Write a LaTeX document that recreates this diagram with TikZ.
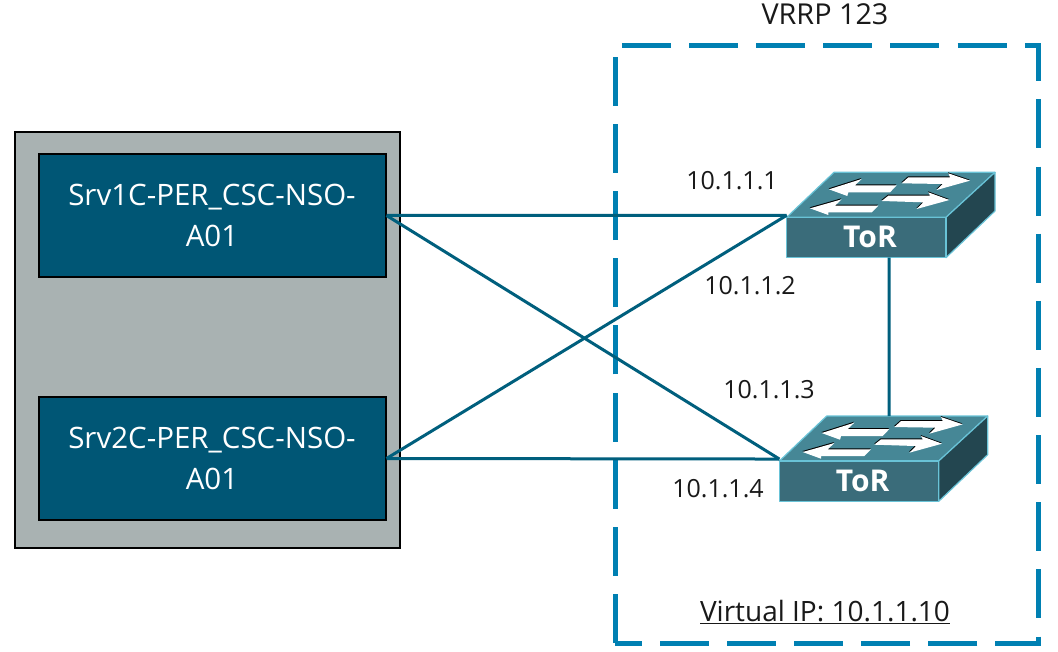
\documentclass[tikz,border=0pt]{standalone}
\usepackage{fontspec}
\setmainfont{Open Sans}
\definecolor{frameblue}{RGB}{0,128,178}
\definecolor{linkblue}{RGB}{0,95,125}
\definecolor{srvblue}{RGB}{0,86,117}
\definecolor{chassis}{RGB}{169,178,178}
\definecolor{swtop}{RGB}{70,135,150}
\definecolor{swfront}{RGB}{58,108,122}
\definecolor{swside}{RGB}{35,70,80}
\definecolor{swedge}{RGB}{105,195,215}
\newcommand{\swarrowshape}[1]{%
  \fill[black,shift={(-1,-3)}] #1 -- cycle;
  \fill[white] #1 -- cycle;}
\tikzset{
  x=1pt,y=-1pt,
  chassisbox/.style={draw=black,line width=2pt,fill=chassis},
  srvbox/.style={draw=black,line width=2pt,fill=srvblue,text=white,minimum width=347pt,minimum height=123pt,inner sep=0pt,align=center,font=\fontsize{29.5}{40}\selectfont},
  vrrpframe/.style={draw=frameblue,line width=5pt,dash pattern=on 49pt off 18.15pt},
  link/.style={draw=linkblue,line width=3pt},
  iplabel/.style={inner sep=0pt,text=black!90,font=\fontsize{25}{30}\selectfont},
  pics/torswitch/.style={code={
    \begin{scope}[scale=0.33333]
      \filldraw[fill=swtop,draw=swedge,line width=1.2pt,line join=round] (80,172) -- (222,37) -- (705,37) -- (558,172) -- cycle;
      \filldraw[fill=swside,draw=swedge,line width=1.2pt,line join=round] (558,172) -- (705,37) -- (705,153) -- (558,293) -- cycle;
      \filldraw[fill=swfront,draw=swedge,line width=1.2pt,line join=round] (80,172) rectangle (558,293);
      \swarrowshape{(207,88) -- (305,57) -- (285,76) -- (410,76) -- (390,97) -- (265,97) -- (262,108)}
      \swarrowshape{(425,70) -- (445,52) -- (570,52) -- (565,40) -- (630,62) -- (530,90) -- (548,72)}
      \swarrowshape{(150,145) -- (245,118) -- (225,137) -- (355,137) -- (335,157) -- (205,157) -- (205,165)}
      \swarrowshape{(365,123) -- (385,107) -- (510,107) -- (505,97) -- (568,120) -- (470,147) -- (490,127)}
      \node[inner sep=0pt,text=white,font=\fontsize{30}{32}\selectfont\bfseries] (-label) at (330,232) {ToR};
      \coordinate (-port) at (80,166);
      \coordinate (-bottom) at (387,293);
      \coordinate (-top) at (409,37);
    \end{scope}
  }}
}
\begin{document}
\begin{tikzpicture}
  \useasboundingbox (0,0) rectangle (1058,652);
  \fill[white] (0,0) rectangle (1058,652);
  \node[chassisbox,minimum width=385pt,minimum height=416pt,inner sep=0pt] (chassisnode) at (207.5,340) {};
  \node[srvbox] (srv1) at (212,215.5) {Srv1C-PER\_CSC-NSO-\\[1pt]A01};
  \node[srvbox] (srv2) at (212,458.5) {Srv2C-PER\_CSC-NSO-\\[1pt]A01};
  \draw[vrrpframe] (615,643) -- (615,45.5) -- (1038,45.5) -- (1038,643) -- cycle;
  \pic (tor1) at (760,160) {torswitch};
  \pic (tor2) at (752.7,403.7) {torswitch};
  \draw[link] (srv1.east) -- (tor1-port);
  \draw[link] (srv1.east) -- (tor2-port);
  \draw[link] (srv2.east) -- (tor1-port);
  \draw[link] (srv2.east) -- (tor2-port);
  \draw[link] (tor1-bottom) -- (tor2-top);
  \node[iplabel] (ip1) at (732,181) {10.1.1.1};
  \node[iplabel] (ip2) at (750,286) {10.1.1.2};
  \node[iplabel] (ip3) at (769,390) {10.1.1.3};
  \node[iplabel] (ip4) at (718,489) {10.1.1.4};
  \node[inner sep=0pt,text=black!90,font=\fontsize{28.8}{32}\selectfont] (vrrp) at (825,14) {VRRP 123};
  \node[inner sep=0pt,text=black!90,font=\fontsize{28}{32}\selectfont] (vip) at (825,612) {\underline{Virtual IP: 10.1.1.10}};
\end{tikzpicture}
\end{document}
